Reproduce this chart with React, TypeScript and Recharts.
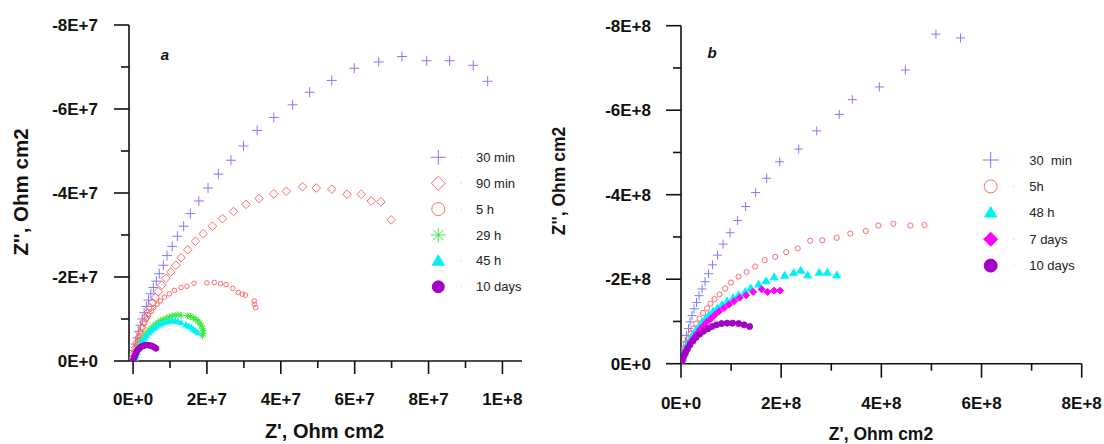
import React from 'react';
import { ScatterChart, Scatter, XAxis, YAxis } from 'recharts';

const FONT = "Arial, 'Liberation Sans', Helvetica, sans-serif";

type P = [number, number];

// ---------- Panel a : [Z', Z''] ----------
const a30min: P[] = [
  [9.6e7, -6.66e7], [9.21e7, -7.04e7], [8.57e7, -7.15e7], [7.95e7, -7.15e7], [7.28e7, -7.25e7],
  [6.65e7, -7.12e7], [5.99e7, -6.97e7], [5.38e7, -6.68e7], [4.78e7, -6.4e7], [4.32e7, -6.1e7],
  [3.81e7, -5.8e7], [3.36e7, -5.49e7], [2.99e7, -5.12e7], [2.65e7, -4.78e7], [2.31e7, -4.45e7],
  [2.03e7, -4.12e7], [1.78e7, -3.81e7], [1.55e7, -3.51e7], [1.37e7, -3.21e7], [1.2e7, -2.97e7],
  [1.06e7, -2.73e7], [9.2e6, -2.51e7], [8.2e6, -2.28e7], [7.1e6, -2.08e7], [6.3e6, -1.9e7],
  [5.5e6, -1.75e7], [4.8e6, -1.6e7], [4.2e6, -1.45e7], [3.6e6, -1.3e7], [3.0e6, -1.15e7],
  [2.5e6, -1.0e7], [2.0e6, -8.5e6], [1.6e6, -7.0e6], [1.2e6, -5.5e6], [0.8e6, -4.0e6],
  [0.5e6, -2.5e6], [0.2e6, -1.2e6], [0, -0.3e6],
];
const a90min: P[] = [
  [6.99e7, -3.36e7], [6.71e7, -3.79e7], [6.45e7, -3.81e7], [6.18e7, -3.97e7], [5.79e7, -3.97e7],
  [5.38e7, -4.09e7], [4.96e7, -4.12e7], [4.59e7, -4.15e7], [4.15e7, -4.04e7], [3.81e7, -3.98e7],
  [3.41e7, -3.87e7], [3.06e7, -3.73e7], [2.72e7, -3.56e7], [2.42e7, -3.39e7], [2.15e7, -3.21e7],
  [1.9e7, -3.03e7], [1.69e7, -2.85e7], [1.48e7, -2.65e7], [1.3e7, -2.46e7], [1.16e7, -2.28e7],
  [1.02e7, -2.12e7], [8.9e6, -1.97e7], [7.8e6, -1.81e7], [6.8e6, -1.65e7], [6.0e6, -1.51e7],
  [5.3e6, -1.39e7], [4.6e6, -1.27e7], [4.0e6, -1.15e7], [3.4e6, -1.03e7], [2.9e6, -9.2e6],
  [2.4e6, -8.0e6], [1.9e6, -6.8e6], [1.5e6, -5.6e6], [1.1e6, -4.4e6], [0.7e6, -3.2e6],
  [0.4e6, -2.0e6], [0.1e6, -0.8e6],
];
const a5h: P[] = [
  [3.32e7, -1.27e7], [3.29e7, -1.35e7], [3.28e7, -1.43e7], [3.04e7, -1.57e7], [2.96e7, -1.59e7],
  [2.85e7, -1.63e7], [2.7e7, -1.73e7], [2.52e7, -1.82e7], [2.37e7, -1.84e7], [2.2e7, -1.87e7],
  [2.0e7, -1.86e7], [1.65e7, -1.85e7], [1.46e7, -1.78e7], [1.3e7, -1.75e7], [1.12e7, -1.68e7],
  [9.8e6, -1.6e7], [8.5e6, -1.52e7], [7.4e6, -1.43e7], [6.5e6, -1.35e7], [5.6e6, -1.27e7],
  [4.9e6, -1.18e7], [4.2e6, -1.09e7], [3.6e6, -1.0e7], [3.0e6, -9.0e6], [2.5e6, -8.0e6],
  [2.0e6, -7.0e6], [1.6e6, -6.0e6], [1.2e6, -5.0e6], [0.9e6, -4.0e6], [0.6e6, -3.0e6],
  [0.35e6, -2.0e6], [0.15e6, -1.0e6], [0, -0.3e6],
];
const a29h: P[] = [
  [1.88e7, -6.0e6], [1.89e7, -6.6e6], [1.9e7, -7.2e6], [1.88e7, -7.8e6], [1.85e7, -8.4e6],
  [1.81e7, -9.0e6], [1.76e7, -9.5e6], [1.7e7, -9.9e6], [1.63e7, -1.03e7], [1.55e7, -1.06e7],
  [1.47e7, -1.08e7], [1.3e7, -1.09e7], [1.22e7, -1.1e7], [1.14e7, -1.09e7], [1.06e7, -1.07e7],
  [9.8e6, -1.05e7], [9.0e6, -1.02e7], [8.2e6, -9.9e6], [7.5e6, -9.6e6], [6.8e6, -9.2e6],
  [6.1e6, -8.8e6], [5.5e6, -8.3e6], [4.9e6, -7.8e6], [4.3e6, -7.3e6], [3.7e6, -6.7e6],
  [3.2e6, -6.1e6], [2.7e6, -5.4e6], [2.2e6, -4.7e6], [1.8e6, -4.0e6], [1.4e6, -3.2e6],
  [1.1e6, -2.5e6], [0.8e6, -1.7e6], [0.6e6, -1.0e6], [0.5e6, -0.4e6],
];
const a45h: P[] = [
  [1.75e7, -6.8e6], [1.69e7, -7.2e6], [1.63e7, -7.6e6], [1.57e7, -8.0e6], [1.5e7, -8.3e6],
  [1.43e7, -8.6e6], [1.3e7, -9.1e6], [1.22e7, -9.4e6], [1.14e7, -9.5e6], [1.06e7, -9.6e6],
  [9.8e6, -9.5e6], [9.0e6, -9.3e6], [8.2e6, -9.1e6], [7.5e6, -8.8e6], [6.8e6, -8.5e6],
  [6.1e6, -8.1e6], [5.5e6, -7.7e6], [4.9e6, -7.2e6], [4.3e6, -6.7e6], [3.7e6, -6.1e6],
  [3.2e6, -5.5e6], [2.7e6, -4.9e6], [2.2e6, -4.2e6], [1.8e6, -3.5e6], [1.4e6, -2.8e6],
  [1.1e6, -2.0e6], [0.8e6, -1.3e6], [0.6e6, -0.6e6],
];
const a10d: P[] = [
  [6.2e6, -3.0e6], [5.8e6, -3.25e6], [5.4e6, -3.45e6], [5.0e6, -3.6e6], [4.6e6, -3.7e6],
  [4.2e6, -3.78e6], [3.8e6, -3.8e6], [3.4e6, -3.78e6], [3.0e6, -3.7e6], [2.6e6, -3.58e6],
  [2.2e6, -3.4e6], [1.9e6, -3.2e6], [1.6e6, -2.95e6], [1.3e6, -2.65e6], [1.05e6, -2.3e6],
  [0.8e6, -1.9e6], [0.6e6, -1.5e6], [0.4e6, -1.1e6], [0.25e6, -0.7e6], [0.1e6, -0.3e6],
];

// ---------- Panel b : [Z', Z''] ----------
const b30min: P[] = [
  [5.58e8, -7.71e8], [5.09e8, -7.8e8], [4.48e8, -6.95e8], [3.96e8, -6.55e8], [3.42e8, -6.25e8],
  [3.16e8, -5.9e8], [2.71e8, -5.51e8], [2.35e8, -5.08e8], [1.97e8, -4.78e8], [1.71e8, -4.39e8],
  [1.49e8, -4.05e8], [1.29e8, -3.72e8], [1.13e8, -3.39e8], [9.8e7, -3.1e8], [8.4e7, -2.83e8],
  [7.3e7, -2.57e8], [6.3e7, -2.34e8], [5.5e7, -2.13e8], [4.8e7, -1.94e8], [4.2e7, -1.77e8],
  [3.6e7, -1.61e8], [3.1e7, -1.45e8], [2.6e7, -1.3e8], [2.2e7, -1.14e8], [1.8e7, -9.9e7],
  [1.5e7, -8.3e7], [1.1e7, -6.7e7], [8.5e6, -5.2e7], [5.6e6, -3.6e7], [2.8e6, -2.0e7], [1e6, -8e6],
];
const b5h: P[] = [
  [4.86e8, -3.28e8], [4.58e8, -3.27e8], [4.24e8, -3.31e8], [3.94e8, -3.27e8], [3.69e8, -3.14e8],
  [3.38e8, -3.08e8], [3.11e8, -2.98e8], [2.82e8, -2.92e8], [2.58e8, -2.91e8], [2.33e8, -2.73e8],
  [2.1e8, -2.64e8], [1.88e8, -2.53e8], [1.67e8, -2.45e8], [1.48e8, -2.3e8], [1.31e8, -2.17e8],
  [1.15e8, -2.06e8], [1.0e8, -1.92e8], [8.8e7, -1.78e8], [7.7e7, -1.64e8], [6.7e7, -1.53e8],
  [5.9e7, -1.42e8], [5.2e7, -1.31e8], [4.4e7, -1.2e8], [3.7e7, -1.07e8], [3.0e7, -9.5e7],
  [2.4e7, -8.3e7], [1.9e7, -7.1e7], [1.4e7, -5.9e7], [9.9e6, -4.8e7], [6.4e6, -3.6e7],
  [3.5e6, -2.4e7], [1.4e6, -1.25e7],
];
const b48h: P[] = [
  [3.11e8, -2.1e8], [2.92e8, -2.16e8], [2.76e8, -2.16e8], [2.53e8, -2.1e8], [2.39e8, -2.21e8],
  [2.25e8, -2.15e8], [2.07e8, -2.09e8], [1.86e8, -2.05e8], [1.7e8, -1.96e8], [1.55e8, -1.88e8],
  [1.39e8, -1.79e8], [1.28e8, -1.7e8], [1.15e8, -1.63e8], [1.04e8, -1.56e8], [9.2e7, -1.48e8],
  [8.2e7, -1.4e8], [7.3e7, -1.32e8], [6.4e7, -1.24e8], [5.6e7, -1.16e8], [4.9e7, -1.07e8],
  [4.2e7, -9.8e7], [3.6e7, -8.8e7], [3.0e7, -7.9e7], [2.4e7, -6.9e7], [1.9e7, -5.9e7],
  [1.4e7, -4.8e7], [9.9e6, -3.6e7], [6.4e6, -2.4e7], [3.5e6, -1.25e7], [1.4e6, -2e6],
];
const b7d: P[] = [
  [1.98e8, -1.73e8], [1.86e8, -1.73e8], [1.73e8, -1.7e8], [1.61e8, -1.76e8], [1.44e8, -1.7e8],
  [1.3e8, -1.62e8], [1.17e8, -1.56e8], [1.06e8, -1.48e8], [9.6e7, -1.4e8], [8.6e7, -1.32e8],
  [7.6e7, -1.24e8], [6.8e7, -1.16e8], [6.0e7, -1.07e8], [5.2e7, -9.9e7], [4.5e7, -9.0e7],
  [3.8e7, -8.1e7], [3.2e7, -7.1e7], [2.6e7, -6.2e7], [2.0e7, -5.2e7], [1.55e7, -4.1e7],
  [1.1e7, -3.1e7], [7e6, -2.1e7], [3.5e6, -1.1e7], [1.4e6, -2e6],
];
const b10d: P[] = [
  [1.37e8, -8.8e7], [1.26e8, -9.2e7], [1.15e8, -9.5e7], [1.03e8, -9.6e7], [9.2e7, -9.6e7],
  [8.1e7, -9.5e7], [7.1e7, -9.2e7], [6.2e7, -8.8e7], [5.4e7, -8.3e7], [4.5e7, -7.7e7],
  [3.7e7, -7.0e7], [3.0e7, -6.2e7], [2.4e7, -5.4e7], [1.8e7, -4.5e7], [1.3e7, -3.6e7],
  [9.2e6, -2.7e7], [5.6e6, -1.8e7], [2.8e6, -1.0e7], [0.7e6, -3.9e6],
];

// ---------- tick values ----------
const aXTicks = [0, 1e7, 2e7, 3e7, 4e7, 5e7, 6e7, 7e7, 8e7, 9e7, 1e8];
const aYTicks = [-8e7, -7e7, -6e7, -5e7, -4e7, -3e7, -2e7, -1e7, 0];
const bXTicks = [0, 1e8, 2e8, 3e8, 4e8, 5e8, 6e8, 7e8, 8e8];
const bYTicks = [-8e8, -7e8, -6e8, -5e8, -4e8, -3e8, -2e8, -1e8, 0];

const toXY = (arr: P[]) => arr.map(([x, y]) => ({ x, y }));

const fmtE = (v: number) => {
  if (v === 0) return '0E+0';
  const e = Math.floor(Math.log10(Math.abs(v)) + 1e-9);
  const m = Math.round(v / Math.pow(10, e));
  return `${m}E+${e}`;
};

const AX = '#111';

const makeXTick = (major: number, majLen: number, minLen: number, labOff: number) => (props: any) => {
  const { x, y, payload } = props;
  const v = payload.value;
  const isMajor = Math.abs(v / major - Math.round(v / major)) < 1e-6;
  return (
    <g>
      <line x1={x} x2={x} y1={y} y2={y + (isMajor ? majLen : minLen)} stroke={AX} strokeWidth={1.6} />
      {isMajor && (
        <text x={x} y={y + labOff} dy="0.35em" textAnchor="middle" fontFamily={FONT} fontWeight="bold" fontSize={17} fill={AX}>
          {fmtE(v)}
        </text>
      )}
    </g>
  );
};

const makeYTick = (major: number, majLen: number, minLen: number, labOff: number) => (props: any) => {
  const { x, y, payload } = props;
  const v = payload.value;
  const isMajor = Math.abs(v / major - Math.round(v / major)) < 1e-6;
  return (
    <g>
      <line x1={x - (isMajor ? majLen : minLen)} x2={x} y1={y} y2={y} stroke={AX} strokeWidth={1.6} />
      {isMajor && (
        <text x={x - labOff} y={y} dy="0.35em" textAnchor="end" fontFamily={FONT} fontWeight="bold" fontSize={17} fill={AX}>
          {fmtE(v)}
        </text>
      )}
    </g>
  );
};

// ---------- marker shapes ----------
const Plus = ({ cx, cy, r, c }: any) => (
  <g stroke={c} strokeWidth={1}>
    <line x1={cx - r} x2={cx + r} y1={cy} y2={cy} />
    <line x1={cx} x2={cx} y1={cy - r} y2={cy + r} />
  </g>
);
const Diamond = ({ cx, cy, r, c, filled }: any) => (
  <polygon
    points={`${cx},${cy - r} ${cx + r},${cy} ${cx},${cy + r} ${cx - r},${cy}`}
    fill={filled ? c : 'none'}
    stroke={c}
    strokeWidth={1}
  />
);
const Circ = ({ cx, cy, r, c, filled }: any) => (
  <circle cx={cx} cy={cy} r={r} fill={filled ? c : 'none'} stroke={c} strokeWidth={1} />
);
const Star = ({ cx, cy, r, c }: any) => {
  const d = r * 0.7071;
  return (
    <g stroke={c} strokeWidth={1}>
      <line x1={cx - r} x2={cx + r} y1={cy} y2={cy} />
      <line x1={cx} x2={cx} y1={cy - r} y2={cy + r} />
      <line x1={cx - d} x2={cx + d} y1={cy - d} y2={cy + d} />
      <line x1={cx - d} x2={cx + d} y1={cy + d} y2={cy - d} />
      <circle cx={cx} cy={cy} r={1} fill={c} stroke="none" />
    </g>
  );
};
const Tri = ({ cx, cy, r, c }: any) => (
  <polygon
    points={`${cx},${cy - r} ${cx + r},${cy + r * 0.7} ${cx - r},${cy + r * 0.7}`}
    fill={c}
    stroke={c}
    strokeWidth={0.5}
  />
);

type Kind = 'plus' | 'diamond' | 'circle' | 'star' | 'tri' | 'fcircle' | 'fdiamond';
const drawShape = (kind: Kind, cx: number, cy: number, r: number, c: string) => {
  switch (kind) {
    case 'plus': return <Plus cx={cx} cy={cy} r={r} c={c} />;
    case 'diamond': return <Diamond cx={cx} cy={cy} r={r} c={c} />;
    case 'fdiamond': return <Diamond cx={cx} cy={cy} r={r} c={c} filled />;
    case 'circle': return <Circ cx={cx} cy={cy} r={r} c={c} />;
    case 'fcircle': return <Circ cx={cx} cy={cy} r={r} c={c} filled />;
    case 'star': return <Star cx={cx} cy={cy} r={r} c={c} />;
    default: return <Tri cx={cx} cy={cy} r={r} c={c} />;
  }
};

type Series = { name: string; data: P[]; kind: Kind; color: string; r: number; lr: number };

const BLUE = '#7c7cff';
const RED = '#ff6a6a';
const GREEN = '#3fe83f';
const CYAN = '#00f2f2';
const PURPLE = '#a300c8';
const MAGENTA = '#ff00ff';

const seriesA: Series[] = [
  { name: '30 min', data: a30min, kind: 'plus', color: BLUE, r: 5, lr: 7.5 },
  { name: '90 min', data: a90min, kind: 'diamond', color: RED, r: 4.3, lr: 7 },
  { name: '5 h', data: a5h, kind: 'circle', color: RED, r: 2.3, lr: 6.5 },
  { name: '29 h', data: a29h, kind: 'star', color: GREEN, r: 3.5, lr: 7.5 },
  { name: '45 h', data: a45h, kind: 'tri', color: CYAN, r: 3.3, lr: 6.5 },
  { name: '10 days', data: a10d, kind: 'fcircle', color: PURPLE, r: 2.8, lr: 6 },
];
const seriesB: Series[] = [
  { name: '30  min', data: b30min, kind: 'plus', color: BLUE, r: 4.5, lr: 8 },
  { name: '5h', data: b5h, kind: 'circle', color: RED, r: 2.6, lr: 6.5 },
  { name: '48 h', data: b48h, kind: 'tri', color: CYAN, r: 4.3, lr: 6.5 },
  { name: '7 days', data: b7d, kind: 'fdiamond', color: MAGENTA, r: 3.5, lr: 7 },
  { name: '10 days', data: b10d, kind: 'fcircle', color: PURPLE, r: 3, lr: 6.5 },
];

const renderScatters = (list: Series[]) =>
  list.map((s) => (
    <Scatter
      key={s.name}
      name={s.name}
      data={toXY(s.data)}
      isAnimationActive={false}
      shape={(p: any) => drawShape(s.kind, p.cx, p.cy, s.r, s.color)}
    />
  ));

const Legend = ({ list, ix, tx, y0, dy }: { list: Series[]; ix: number; tx: number; y0: number; dy: number }) => (
  <g>
    {list.map((s, i) => {
      const y = y0 + i * dy;
      return (
        <g key={s.name}>
          {drawShape(s.kind, ix, y, s.lr, s.color)}
          <circle cx={ix + 23} cy={y} r={0.6} fill="#ccc" />
          <text x={tx} y={y} dy="0.35em" fontFamily={FONT} fontSize={13} fill="#222" style={{ whiteSpace: 'pre' }}>
            {s.name}
          </text>
        </g>
      );
    })}
  </g>
);

export default function App() {
  const xTickA = makeXTick(2e7, 13, 7, 38);
  const yTickA = makeYTick(2e7, 15, 8, 31);
  const xTickB = makeXTick(2e8, 14, 7, 39);
  const yTickB = makeYTick(2e8, 15, 8, 30);
  return (
    <div style={{ position: 'absolute', left: 0, top: 0, width: 1104, height: 444, background: '#fff' }}>
      <div style={{ position: 'absolute', left: 0, top: 0 }}>
        <ScatterChart width={550} height={444} margin={{ top: 25, right: 28, bottom: 43, left: 69 }}>
          <XAxis
            type="number"
            dataKey="x"
            domain={[-1.1e6, 1.053e8]}
            ticks={aXTicks}
            interval={0}
            allowDataOverflow
            height={40}
            axisLine={{ stroke: AX, strokeWidth: 1.6 }}
            tickLine={false}
            tickSize={0}
            tickMargin={0}
            tick={xTickA}
          />
          <YAxis
            type="number"
            dataKey="y"
            reversed
            domain={[-8e7, 0]}
            ticks={aYTicks}
            interval={0}
            allowDataOverflow
            width={60}
            axisLine={{ stroke: AX, strokeWidth: 1.6 }}
            tickLine={false}
            tickSize={0}
            tickMargin={0}
            tick={yTickA}
          />
          {renderScatters(seriesA)}
        </ScatterChart>
      </div>
      <div style={{ position: 'absolute', left: 550, top: 0 }}>
        <ScatterChart width={554} height={444} margin={{ top: 25.7, right: 22.3, bottom: 40.3, left: 71 }}>
          <XAxis
            type="number"
            dataKey="x"
            domain={[0, 8e8]}
            ticks={bXTicks}
            interval={0}
            allowDataOverflow
            height={40}
            axisLine={{ stroke: AX, strokeWidth: 1.6 }}
            tickLine={false}
            tickSize={0}
            tickMargin={0}
            tick={xTickB}
          />
          <YAxis
            type="number"
            dataKey="y"
            reversed
            domain={[-8e8, 0]}
            ticks={bYTicks}
            interval={0}
            allowDataOverflow
            width={60}
            axisLine={{ stroke: AX, strokeWidth: 1.6 }}
            tickLine={false}
            tickSize={0}
            tickMargin={0}
            tick={yTickB}
          />
          {renderScatters(seriesB)}
        </ScatterChart>
      </div>
      <svg width={1104} height={444} style={{ position: 'absolute', left: 0, top: 0, pointerEvents: 'none' }}>
        <text x={165} y={55} dy="0.35em" textAnchor="middle" fontFamily={FONT} fontWeight="bold" fontStyle="italic" fontSize={15} fill={AX}>a</text>
        <text x={712} y={53} dy="0.35em" textAnchor="middle" fontFamily={FONT} fontWeight="bold" fontStyle="italic" fontSize={15} fill={AX}>b</text>
        <text x={324.5} y={431} dy="0.35em" textAnchor="middle" fontFamily={FONT} fontWeight="bold" fontSize={20} fill={AX}>Z', Ohm cm2</text>
        <text transform="translate(20.5,192) rotate(-90)" dy="0.35em" textAnchor="middle" fontFamily={FONT} fontWeight="bold" fontSize={20.5} fill={AX}>Z'', Ohm cm2</text>
        <text x={881} y={433.5} dy="0.35em" textAnchor="middle" fontFamily={FONT} fontWeight="bold" fontSize={17.5} fill={AX}>Z', Ohm cm2</text>
        <text transform="translate(559,181) rotate(-90)" dy="0.35em" textAnchor="middle" fontFamily={FONT} fontWeight="bold" fontSize={17.5} fill={AX}>Z'', Ohm cm2</text>
        <Legend list={seriesA} ix={438.3} tx={476} y0={157.3} dy={25.9} />
        <Legend list={seriesB} ix={990.7} tx={1029.3} y0={160} dy={26.4} />
      </svg>
    </div>
  );
}
